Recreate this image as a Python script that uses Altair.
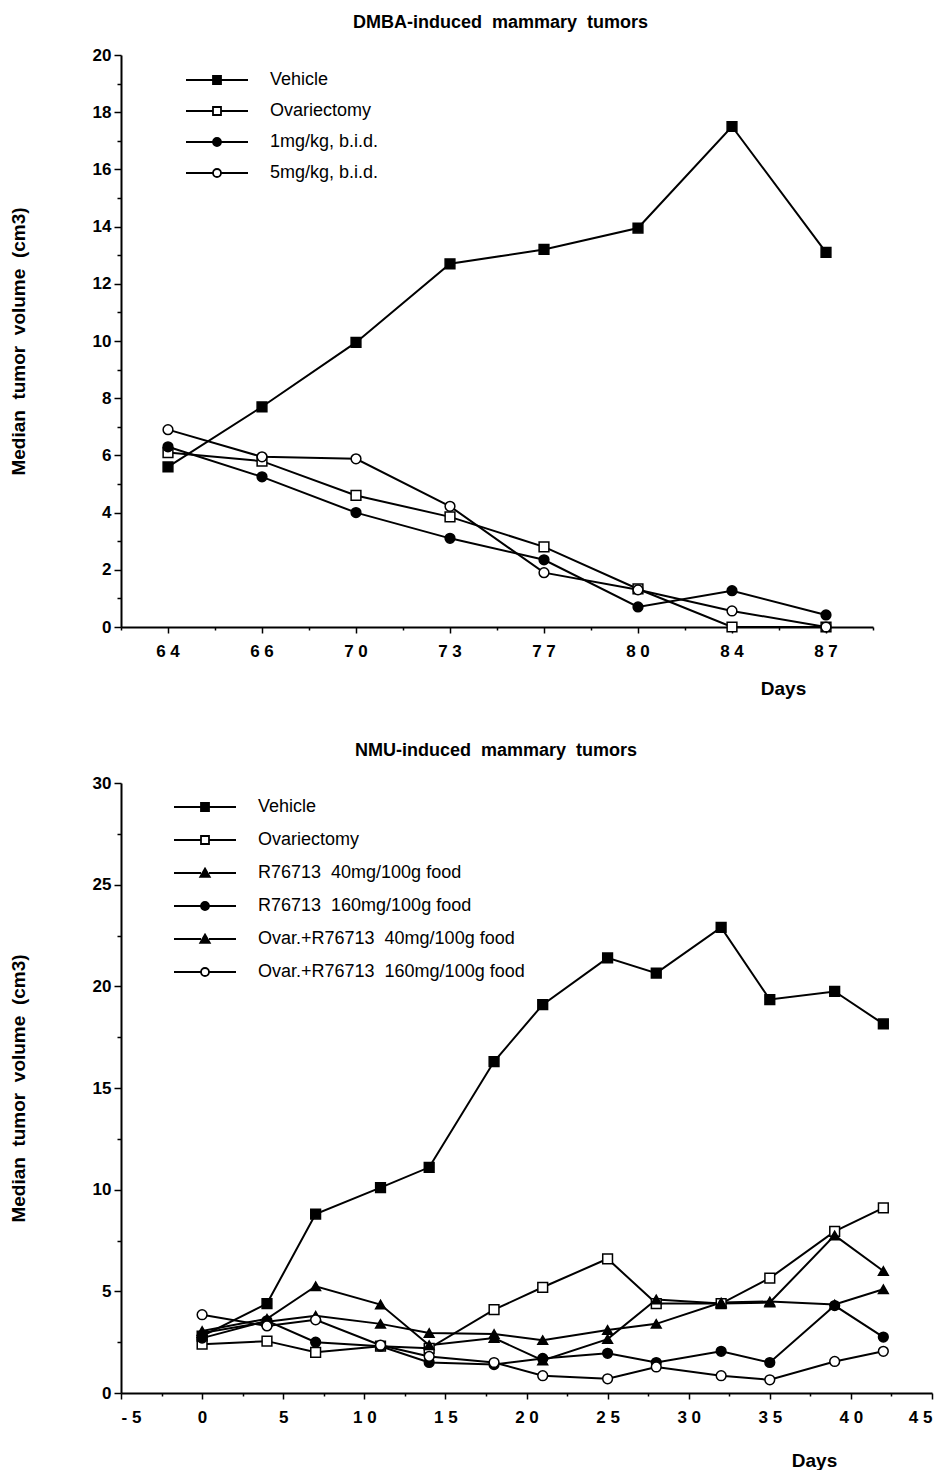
import altair as alt
import pandas as pd

FONT = "Liberation Sans"
NB = "\u00a0"

# ---------------- DMBA panel data ----------------
dmba_days = [64, 66, 70, 73, 77, 80, 84, 87]
dmba_series = ["Vehicle", "Ovariectomy", "1mg/kg, b.i.d.", "5mg/kg, b.i.d."]
dmba_vehicle = [5.6, 7.7, 9.95, 12.7, 13.2, 13.95, 17.5, 13.1]
dmba_ovx = [6.1, 5.8, 4.6, 3.85, 2.8, 1.33, 0.0, 0.0]
dmba_1mg = [6.3, 5.25, 4.0, 3.1, 2.35, 0.7, 1.27, 0.42]
dmba_5mg = [6.9, 5.95, 5.88, 4.22, 1.9, 1.3, 0.56, 0.0]
dmba_y_ticks = [0, 2, 4, 6, 8, 10, 12, 14, 16, 18, 20]
dmba_y_minor = [1, 3, 5, 7, 9, 11, 13, 15, 17, 19]

# ---------------- NMU panel data ----------------
nmu_days = [0, 4, 7, 11, 14, 18, 21, 25, 28, 32, 35, 39, 42]
nmu_series = [
    "Vehicle",
    "Ovariectomy",
    "R76713" + NB + " 40mg/100g food",
    "R76713" + NB + " 160mg/100g food",
    "Ovar.+R76713" + NB + " 40mg/100g food",
    "Ovar.+R76713" + NB + " 160mg/100g food",
]
nmu_vehicle = [2.8, 4.4, 8.8, 10.1, 11.1, 16.3, 19.1, 21.4, 20.65, 22.9, 19.35, 19.75, 18.15]
nmu_ovx = [2.4, 2.55, 2.0, 2.3, 2.2, 4.1, 5.2, 6.6, 4.4, 4.4, 5.65, 7.95, 9.1]
nmu_r40 = [3.05, 3.65, 5.25, 4.35, 2.35, 2.7, 1.6, 2.65, 4.6, 4.4, 4.45, 7.75, 6.0]
nmu_r160 = [2.7, 3.55, 2.5, 2.3, 1.5, 1.4, 1.7, 1.95, 1.5, 2.05, 1.5, 4.3, 2.75]
nmu_ovr40 = [2.95, 3.5, 3.8, 3.4, 2.95, 2.9, 2.6, 3.1, 3.4, 4.45, 4.5, 4.35, 5.1]
nmu_ovr160 = [3.85, 3.3, 3.6, 2.35, 1.8, 1.5, 0.85, 0.7, 1.28, 0.85, 0.65, 1.55, 2.05]
nmu_x_ticks = [-5, 0, 5, 10, 15, 20, 25, 30, 35, 40, 45]
nmu_x_minor = [-2.5, 2.5, 7.5, 12.5, 17.5, 22.5, 27.5, 32.5, 37.5, 42.5]
nmu_y_ticks = [0, 5, 10, 15, 20, 25, 30]
nmu_y_minor = [2.5, 7.5, 12.5, 17.5, 22.5, 27.5]

# ---------------- marker styles ----------------
LINE = "M-6.2,0H-0.8M0.8,0H6.2"
SQ = LINE + "M-0.8,-0.8H0.8V0.8H-0.8Z"
CI = LINE + "M0.8,0A0.8,0.8,0,1,1,-0.8,0A0.8,0.8,0,1,1,0.8,0Z"
TR = LINE + "M0,-0.9L0.95,0.75L-0.95,0.75Z"

dmba_shapes = ["square", "square", "circle", "circle"]
dmba_fills = ["black", "white", "black", "white"]
dmba_legend_paths = [SQ, SQ, CI, CI]

nmu_shapes = ["square", "square", "triangle-up", "circle", "triangle-up", "circle"]
nmu_fills = ["black", "white", "black", "black", "black", "white"]
nmu_legend_paths = [SQ, SQ, TR, CI, TR, CI]

Y_TITLE = "Median" + NB + " tumor" + NB + " volume" + NB + " (cm3)"
LABEL_EXPR = "(datum.value < 0 ? '- ' : '') + join(split('' + abs(datum.value), ''), ' ')"


def long_df(days, series, values):
    rows = []
    for s, vals in zip(series, values):
        for d, v in zip(days, vals):
            rows.append({"day": d, "series": s, "value": v})
    return pd.DataFrame(rows)


def legend(x, y, rowpad):
    return alt.Legend(
        title=None, orient="none", legendX=x, legendY=y, symbolSize=100,
        symbolStrokeWidth=1.8, symbolStrokeColor="black", symbolOpacity=1,
        labelFont=FONT, labelFontSize=18, labelColor="black", labelOffset=44,
        rowPadding=rowpad, padding=0, labelLimit=500, offset=0,
    )


def panel(df, series, shapes, fills, paths, xfield, xscale, xmajor, xminor,
          yscale, ymajor, yminor, width, height, title, leg):
    base = alt.Chart(df)
    lines = base.mark_line(color="black", strokeWidth=2).encode(
        x=alt.X(xfield, scale=xscale, axis=xmajor),
        y=alt.Y("value:Q", scale=yscale, axis=ymajor),
        detail="series:N",
    )
    pts = base.mark_point(filled=True, size=95, stroke="black", strokeWidth=1.5, opacity=1).encode(
        x=alt.X(xfield, scale=xscale, axis=None),
        y=alt.Y("value:Q", scale=yscale, axis=None),
        shape=alt.Shape("series:N", scale=alt.Scale(domain=series, range=shapes), legend=None),
        fill=alt.Fill("series:N", scale=alt.Scale(domain=series, range=fills), legend=None),
    )
    legl = base.mark_point(filled=True, strokeWidth=1.8, opacity=0).encode(
        x=alt.X(xfield, scale=xscale, axis=xminor),
        y=alt.Y("value:Q", scale=yscale, axis=yminor),
        shape=alt.Shape("series:N", scale=alt.Scale(domain=series, range=paths), legend=leg),
        fill=alt.Fill("series:N", scale=alt.Scale(domain=series, range=fills), legend=leg),
        stroke=alt.Stroke("series:N", scale=alt.Scale(domain=series, range=["black"] * len(series)), legend=leg),
    )
    return (
        alt.layer(lines, pts, legl)
        .resolve_scale(shape="independent", fill="independent", stroke="independent")
        .resolve_axis(x="independent", y="independent")
        .properties(width=width, height=height, title=title)
    )


def y_major(values):
    return alt.Axis(
        orient="left", values=values, tickSize=7, tickWidth=1.5, domainWidth=2,
        labelPadding=3, labelFontSize=17, title=Y_TITLE, titleFontSize=19,
        titleFontWeight="bold", titlePadding=64,
    )


def y_minor(values):
    return alt.Axis(orient="left", values=values, tickSize=4, tickWidth=1.5,
                    labels=False, domain=False, title=None)


def x_major(values, tx, ty):
    kw = dict(
        orient="bottom", tickSize=6, tickWidth=1.5, domainWidth=2, labelAngle=0,
        labelPadding=10, labelFontSize=17, labelExpr=LABEL_EXPR,
        title="Days", titleFontSize=19, titleFontWeight="bold",
        titleX=tx, titleY=ty, titleAlign="center", titleBaseline="alphabetic",
    )
    if values is not None:
        kw["values"] = values
    return alt.Axis(**kw)


def title_params(text, dx):
    return alt.TitleParams(
        text, anchor="start", frame="group", dx=dx, font=FONT, fontSize=18,
        fontWeight="bold", color="black", offset=14,
    )


dmba_df = long_df(dmba_days, dmba_series, [dmba_vehicle, dmba_ovx, dmba_1mg, dmba_5mg])
nmu_df = long_df(nmu_days, nmu_series,
                 [nmu_vehicle, nmu_ovx, nmu_r40, nmu_r160, nmu_ovr40, nmu_ovr160])

top = panel(
    dmba_df, dmba_series, dmba_shapes, dmba_fills, dmba_legend_paths,
    "day:O",
    alt.Scale(type="band", domain=dmba_days, paddingInner=0, paddingOuter=0),
    x_major(None, 662, 67),
    alt.Axis(orient="bottom", tickBand="extent", tickSize=3, tickWidth=1.5,
             labels=False, domain=False, title=None),
    alt.Scale(domain=[0, 20], nice=False),
    y_major(dmba_y_ticks), y_minor(dmba_y_minor),
    752, 572,
    title_params("DMBA-induced" + NB + " mammary" + NB + " tumors", 232),
    legend(87, 16, 13),
)

bottom = panel(
    nmu_df, nmu_series, nmu_shapes, nmu_fills, nmu_legend_paths,
    "day:Q",
    alt.Scale(domain=[-5, 45], nice=False, zero=False),
    x_major(nmu_x_ticks, 693, 73),
    alt.Axis(orient="bottom", values=nmu_x_minor, tickSize=3, tickWidth=1.5,
             labels=False, domain=False, title=None),
    alt.Scale(domain=[0, 30], nice=False),
    y_major(nmu_y_ticks), y_minor(nmu_y_minor),
    811, 610,
    title_params("NMU-induced" + NB + " mammary" + NB + " tumors", 234),
    legend(75, 15, 15),
)

chart = (
    alt.vconcat(top, bottom, spacing=44)
    .properties(padding={"left": 1, "top": 6, "right": 2, "bottom": 0})
    .configure_view(stroke=None)
    .configure_axis(
        labelFont=FONT, labelFontWeight="bold", labelColor="black",
        titleFont=FONT, titleColor="black", domainColor="black",
        tickColor="black", grid=False,
    )
)

chart.save("out.html", embed_options={"renderer": "svg", "actions": False})
